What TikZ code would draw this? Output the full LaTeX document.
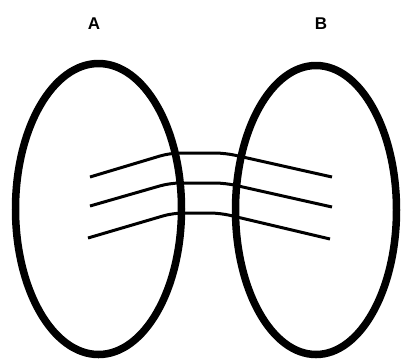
\documentclass[tikz,border=0pt]{standalone}
\usepackage{fontspec}
\setmainfont{Liberation Sans}
\usepackage{tikz}
\tikzset{
  ring/.style={
    draw=black,
    line width=7.5pt
  },
  strand/.style={
    draw=black,
    line width=3pt,
    rounded corners=10pt
  },
  set label/.style={
    font=\fontsize{17}{20}\selectfont\bfseries,
    text=black,
    inner sep=0pt
  }
}

\begin{document}
\begin{tikzpicture}[x=1pt, y=-1pt]
    \useasboundingbox (0, 0) rectangle (402, 360);

    % 两个集合
    \coordinate (CenterA) at (98.5, 209);
    \coordinate (CenterB) at (316, 210);
    \draw[ring] (CenterA) ellipse [x radius=83, y radius=145.5];
    \draw[ring] (CenterB) ellipse [x radius=80.5, y radius=144.5];

    % 标签
    \node[set label] (LabelA) at (94, 23.5) {A};
    \node[set label] (LabelB) at (321, 23.5) {B};

    % 三条连线
    \coordinate (StartTop) at (90, 177);
    \coordinate (EndTop) at (332, 177);
    \coordinate (StartMid) at (90, 206);
    \coordinate (EndMid) at (332, 207);
    \coordinate (StartLow) at (88, 238);
    \coordinate (EndLow) at (330, 239);

    \draw[strand] (StartTop) -- (170, 153) -- (225, 153) -- (EndTop);
    \draw[strand] (StartMid) -- (170, 183) -- (225, 183) -- (EndMid);
    \draw[strand] (StartLow) -- (173, 213) -- (220, 213) -- (EndLow);

  \end{tikzpicture}
\end{document}
